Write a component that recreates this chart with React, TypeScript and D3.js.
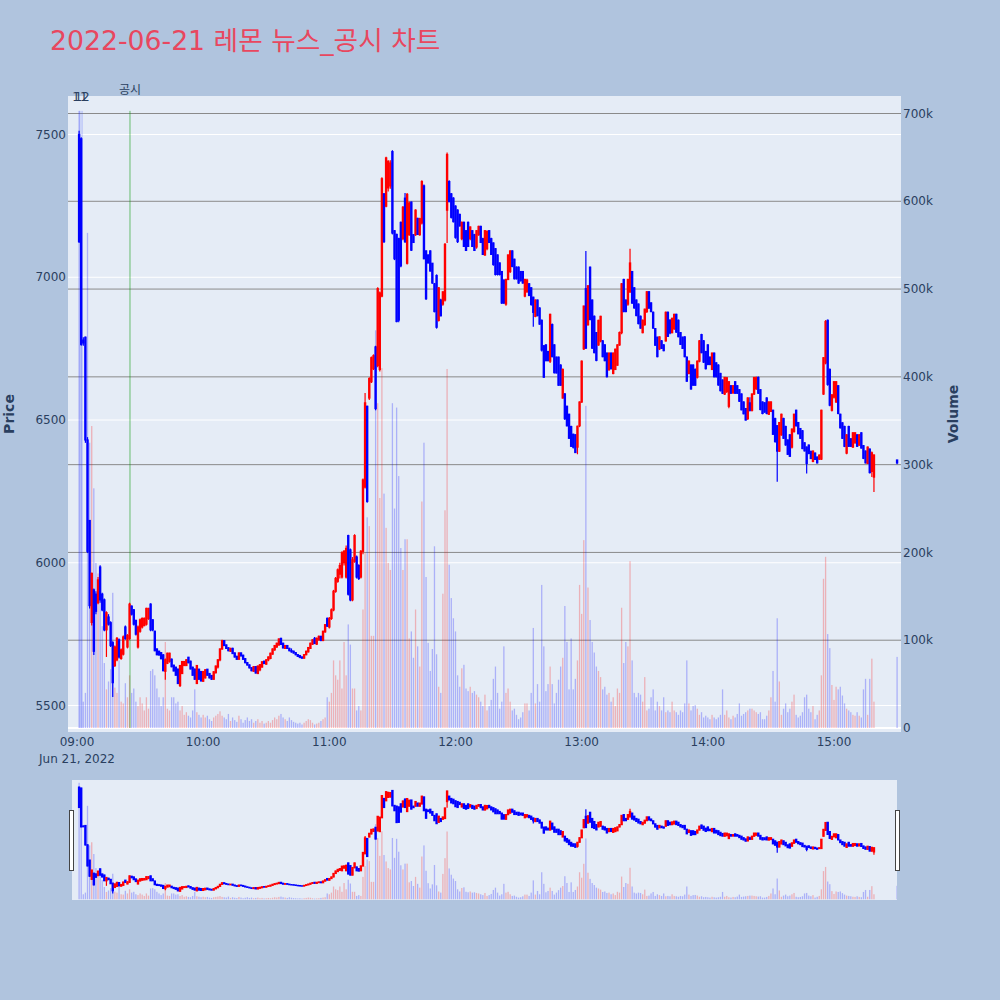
import React from "react";
import * as d3 from "d3";

const TITLE = "2022-06-21 레몬 뉴스_공시 차트";
const DATE_LABEL = "Jun 21, 2022";

// minute offsets from 09:00 (09:01 ... 15:19, then 15:30 closing auction)
const minuteOffsets: number[] = [...d3.range(1, 380), 390];

const openP = [
  7500,7485,6780,6790,6430,6148,5791,5905,5890,5860,
  5985,5890,5870,5765,5810,5790,5720,5640,5660,5730,
  5665,5680,5775,5705,5735,5848,5835,5798,5705,5760,
  5775,5780,5785,5805,5855,5800,5760,5698,5690,5685,
  5677,5620,5648,5655,5662,5641,5634,5627,5570,5612,
  5640,5640,5669,5655,5634,5627,5577,5627,5619,5585,
  5597,5627,5612,5605,5592,5615,5635,5660,5698,5727,
  5712,5702,5690,5700,5684,5672,5662,5684,5676,5664,
  5650,5642,5632,5620,5636,5612,5625,5635,5655,5645,
  5660,5665,5680,5695,5705,5712,5735,5718,5700,5710,
  5700,5692,5690,5685,5678,5675,5670,5666,5678,5688,
  5700,5715,5735,5715,5730,5742,5728,5758,5805,5775,
  5805,5835,5900,5935,5960,5950,6000,5950,6095,6045,
  5870,6005,6020,5990,5950,6040,6265,6548,6577,6634,
  6680,6756,6691,6677,6934,7292,7249,7313,7320,7440,
  7163,7150,7135,7192,7135,7277,7049,7149,7263,7149,
  7149,7206,7149,7190,7320,7092,7078,7092,7049,6977,
  7006,6849,6920,6906,6920,7235,7335,7292,7277,7249,
  7235,7220,7135,7192,7163,7192,7135,7163,7149,7106,
  7149,7178,7135,7078,7100,7163,7135,7120,7100,7078,
  7050,7020,6990,6906,6992,7020,7092,7063,7035,7035,
  7020,7020,6934,6950,6977,6963,6930,6863,6920,6892,
  6849,6760,6763,6740,6706,6834,6763,6720,6720,6692,
  6577,6591,6548,6520,6477,6450,6448,6405,6480,6563,
  6749,6960,6834,7035,6920,6863,6806,6763,6777,6777,
  6763,6734,6677,6734,6663,6677,6692,6763,6806,6992,
  6920,6906,6949,7020,6963,6920,6906,6863,6806,6834,
  6880,6949,6910,6877,6820,6790,6749,6777,6763,6777,
  6877,6850,6806,6820,6870,6849,6806,6790,6791,6720,
  6663,6692,6692,6677,6650,6706,6799,6777,6740,6763,
  6720,6677,6734,6700,6692,6663,6640,6591,6600,6548,
  6620,6595,6634,6620,6606,6591,6563,6540,6505,6560,
  6534,6591,6610,6649,6606,6563,6560,6577,6520,6530,
  6534,6505,6480,6391,6448,6505,6477,6430,6448,6405,
  6460,6534,6491,6470,6462,6420,6405,6412,6390,6355,
  6384,6370,6363,6363,6591,6700,6849,6677,6534,6580,
  6563,6620,6520,6490,6477,6384,6477,6434,6405,6420,
  6448,6412,6455,6410,6391,6348,6398,6320,6300,
  6360,
];

const highP = [
  7513,7490,6790,6792,6440,6150,5965,5910,5900,5950,
  5991,5895,5875,5830,5820,5795,5725,5710,5740,5735,
  5700,5745,5780,5750,5860,5850,5838,5800,5780,5805,
  5808,5808,5842,5842,5858,5802,5762,5700,5692,5687,
  5680,5665,5685,5685,5665,5643,5636,5630,5642,5655,
  5655,5662,5670,5657,5636,5630,5642,5629,5620,5620,
  5627,5628,5614,5607,5620,5640,5662,5700,5730,5729,
  5714,5704,5702,5702,5686,5674,5686,5686,5678,5666,
  5652,5644,5634,5638,5638,5640,5645,5655,5657,5662,
  5672,5685,5700,5712,5720,5735,5737,5720,5712,5712,
  5702,5700,5692,5687,5680,5677,5672,5680,5692,5705,
  5720,5732,5740,5738,5745,5744,5762,5785,5808,5810,
  5840,5905,5950,5980,6000,6040,6045,6060,6098,6050,
  6020,6100,6025,5995,6045,6295,6595,6550,6650,6722,
  6730,6760,6965,6950,7350,7295,7422,7410,7410,7445,
  7165,7152,7138,7195,7250,7295,7295,7265,7265,7150,
  7238,7208,7208,7340,7325,7095,7080,7095,7050,6980,
  7010,6965,6925,6950,7120,7437,7340,7295,7280,7252,
  7238,7222,7195,7195,7165,7195,7178,7165,7152,7165,
  7180,7180,7138,7165,7165,7165,7138,7122,7102,7080,
  7052,7022,6992,6995,7080,7095,7095,7065,7038,7038,
  7022,7022,6995,6995,6980,6965,6932,6922,6922,6895,
  6852,6762,6765,6742,6872,6838,6765,6722,6722,6695,
  6680,6595,6550,6522,6480,6452,6450,6480,6565,6708,
  6900,7092,6972,7038,6922,6866,6808,6851,6865,6780,
  6765,6736,6736,6736,6736,6750,6765,6810,6980,6995,
  6922,6995,7100,7022,6965,6922,6908,6866,6852,6890,
  6952,6952,6912,6880,6822,6792,6793,6780,6765,6880,
  6880,6852,6858,6872,6872,6852,6808,6792,6793,6722,
  6708,6695,6695,6680,6708,6780,6802,6780,6742,6765,
  6722,6736,6736,6702,6695,6665,6642,6651,6650,6636,
  6622,6622,6636,6622,6608,6593,6565,6542,6580,6580,
  6593,6651,6652,6652,6608,6565,6562,6580,6565,6566,
  6536,6508,6482,6493,6522,6508,6480,6432,6450,6470,
  6522,6536,6493,6472,6465,6422,6407,6414,6392,6393,
  6386,6372,6379,6536,6720,6850,6852,6680,6590,6636,
  6636,6622,6522,6492,6480,6450,6480,6436,6457,6457,
  6450,6450,6457,6412,6393,6407,6400,6390,6380,
  6360,
];

const lowP = [
  7120,6760,6760,6420,6034,5840,5780,5677,5820,5855,
  5860,5830,5760,5670,5780,5705,5530,5635,5655,5665,
  5660,5675,5730,5700,5730,5815,5780,5745,5700,5755,
  5770,5778,5780,5800,5760,5760,5690,5676,5675,5662,
  5620,5590,5645,5650,5634,5620,5605,5575,5565,5610,
  5638,5638,5648,5627,5605,5590,5575,5590,5585,5583,
  5595,5605,5595,5590,5590,5612,5630,5655,5695,5708,
  5698,5690,5688,5680,5668,5660,5660,5672,5660,5648,
  5640,5630,5620,5618,5612,5610,5620,5632,5645,5643,
  5655,5662,5678,5692,5702,5710,5712,5700,5698,5698,
  5690,5685,5682,5676,5670,5666,5664,5664,5676,5686,
  5698,5712,5715,5712,5728,5725,5725,5755,5775,5770,
  5800,5830,5895,5930,5945,5945,5990,5945,5885,5865,
  5865,6000,5945,5940,5945,6030,6260,6210,6570,6630,
  6675,6534,6685,6670,6930,7120,7245,7300,7310,7150,
  7060,6842,6842,7035,7130,7120,7045,7145,7092,7120,
  7145,7149,7145,7185,7063,6920,7049,7020,6977,6877,
  6820,6845,6863,6900,6915,7120,7263,7206,7192,7135,
  7120,7178,7130,7106,7092,7106,7130,7106,7092,7100,
  7145,7120,7078,7075,7095,7120,7078,7040,7006,7006,
  7006,6906,6906,6900,6990,7015,7035,6992,6992,6977,
  6985,6977,6930,6945,6934,6900,6827,6860,6863,6834,
  6740,6648,6706,6706,6700,6720,6663,6663,6620,6620,
  6575,6500,6477,6434,6405,6400,6384,6380,6475,6560,
  6745,6749,6830,6849,6749,6734,6706,6760,6772,6720,
  6706,6649,6672,6677,6660,6675,6690,6760,6800,6877,
  6877,6900,6945,6906,6890,6863,6835,6820,6804,6830,
  6875,6890,6877,6820,6760,6720,6745,6749,6741,6775,
  6791,6800,6804,6815,6806,6790,6763,6749,6720,6634,
  6660,6606,6620,6620,6645,6702,6734,6700,6677,6692,
  6692,6675,6649,6649,6620,6600,6591,6588,6595,6541,
  6591,6592,6591,6591,6563,6534,6520,6498,6500,6530,
  6530,6588,6605,6591,6534,6520,6525,6520,6518,6528,
  6448,6420,6284,6388,6445,6434,6410,6377,6370,6400,
  6455,6477,6450,6434,6398,6390,6313,6380,6363,6352,
  6360,6348,6360,6360,6588,6695,6620,6548,6530,6575,
  6560,6520,6470,6434,6405,6380,6405,6405,6403,6418,
  6405,6410,6400,6363,6348,6346,6313,6300,6248,
  6345,
];

const closeP = [
  7125,6765,6770,6430,6040,5850,5963,5690,5830,5940,
  5870,5835,5765,5825,5785,5710,5580,5705,5735,5670,
  5695,5740,5735,5745,5855,5820,5785,5750,5775,5800,
  5805,5805,5840,5840,5765,5765,5692,5678,5677,5664,
  5622,5660,5683,5683,5636,5621,5606,5577,5640,5654,
  5654,5660,5650,5628,5606,5592,5640,5592,5586,5619,
  5625,5606,5597,5592,5618,5638,5660,5698,5727,5710,
  5700,5692,5700,5682,5670,5662,5684,5674,5662,5650,
  5642,5632,5622,5636,5614,5638,5643,5653,5647,5660,
  5670,5683,5698,5710,5718,5733,5714,5702,5710,5700,
  5692,5688,5684,5678,5672,5668,5666,5678,5690,5703,
  5718,5730,5717,5735,5742,5728,5760,5783,5778,5805,
  5835,5900,5945,5975,5990,6035,6040,6050,5890,5870,
  6010,6095,5950,5945,6040,6290,6560,6215,6645,6718,
  6725,6540,6960,6945,7345,7125,7418,7406,7400,7155,
  7065,6845,6850,7040,7245,7125,7290,7260,7095,7122,
  7235,7150,7205,7335,7065,6925,7050,7022,6980,6880,
  6825,6963,6865,6949,7115,7430,7265,7210,7195,7140,
  7125,7180,7192,7108,7094,7108,7176,7108,7094,7163,
  7178,7122,7080,7163,7160,7122,7080,7045,7010,7010,
  7010,6910,6910,6992,7078,7092,7038,6995,6995,6980,
  6988,6980,6992,6990,6936,6905,6877,6920,6866,6836,
  6745,6650,6708,6708,6870,6722,6666,6665,6622,6622,
  6677,6505,6480,6436,6408,6405,6386,6478,6563,6706,
  6899,6752,6970,6852,6752,6736,6709,6849,6863,6722,
  6708,6652,6734,6680,6734,6748,6763,6806,6977,6880,
  6880,6992,7050,6910,6893,6866,6838,6822,6849,6888,
  6949,6892,6880,6822,6762,6722,6791,6751,6743,6877,
  6793,6805,6856,6870,6808,6792,6765,6751,6722,6636,
  6706,6609,6622,6622,6706,6777,6736,6703,6680,6695,
  6695,6734,6652,6652,6623,6603,6594,6649,6648,6634,
  6594,6620,6594,6594,6566,6536,6522,6500,6577,6534,
  6591,6649,6648,6594,6537,6523,6528,6523,6563,6563,
  6450,6425,6391,6491,6520,6436,6413,6380,6373,6468,
  6520,6480,6452,6436,6400,6392,6348,6383,6365,6391,
  6362,6350,6377,6534,6718,6845,6625,6552,6588,6634,
  6634,6523,6473,6436,6408,6448,6408,6408,6455,6455,
  6408,6448,6402,6366,6350,6405,6316,6385,6377,
  6350,
];

// volume in thousands of shares
const volumeK = [
  703,620,30,40,564,325,344,273,188,176,
  151,116,74,44,53,67,154,46,40,77,
  30,28,51,35,60,40,45,30,25,35,
  28,20,35,22,65,67,60,45,35,25,
  35,98,22,20,35,35,28,30,20,25,
  15,18,14,12,20,44,18,15,12,15,
  12,14,10,8,12,14,16,19,14,12,
  10,16,8,12,9,7,14,10,6,9,
  12,8,10,6,8,10,6,8,5,6,
  8,6,9,12,10,14,16,12,10,8,
  12,9,7,6,5,6,4,6,8,10,
  9,6,4,5,6,8,10,12,35,30,
  40,77,60,55,77,45,98,60,118,95,
  45,45,20,25,20,135,200,240,230,105,
  105,453,370,262,410,267,228,188,180,370,
  250,365,287,205,180,215,215,102,110,80,
  135,93,70,258,325,172,97,65,90,207,
  84,47,40,153,248,409,186,148,125,110,
  60,47,68,72,45,42,47,40,42,38,
  35,30,25,38,20,25,32,56,70,40,
  22,30,93,40,45,30,20,22,15,10,
  12,18,28,28,20,40,114,28,50,30,
  163,93,42,50,70,50,28,40,55,70,
  80,139,98,44,102,44,56,77,163,130,
  214,367,160,123,98,86,70,65,58,44,
  47,38,40,30,35,25,45,40,137,74,
  98,93,190,77,40,35,40,38,30,58,
  20,22,35,44,20,30,25,20,35,18,
  20,18,30,20,18,15,20,18,28,77,
  28,20,25,26,22,15,18,12,14,12,
  10,15,12,10,12,15,44,15,20,12,
  10,14,12,16,28,14,16,18,20,22,
  22,20,18,16,18,10,10,14,20,35,
  65,30,125,53,15,22,28,18,22,30,
  38,15,12,14,18,35,38,22,18,25,
  10,15,20,60,170,195,107,91,49,32,
  47,44,47,37,28,22,20,18,15,14,
  18,14,12,44,56,15,56,79,30,
  81,
];

const priceTicks = [5500, 6000, 6500, 7000, 7500];
const volumeTicks = [0, 100, 200, 300, 400, 500, 600, 700];
const volumeTickLabels = ["0", "100k", "200k", "300k", "400k", "500k", "600k", "700k"];
const timeTickMinutes = [0, 60, 120, 180, 240, 300, 360];
const timeTickLabels = ["09:00", "10:00", "11:00", "12:00", "13:00", "14:00", "15:00"];

const newsLabels = ["11", "12"];
const newsMinutes = [1.4, 2.4];
const disclosureLabel = "공시";
const disclosureMinute = 25.2;

const FONT = '"DejaVu Sans", Verdana, "Noto Sans CJK KR", sans-serif';
const TEXT = "#2a3f5f";
const UP = "#ff0000";
const DOWN = "#0000ff";

type Row = { m: number; o: number; h: number; l: number; c: number; v: number };

const rows: Row[] = minuteOffsets.map((m, i) => ({
  m,
  o: openP[i],
  h: highP[i],
  l: lowP[i],
  c: closeP[i],
  v: volumeK[i],
}));

function Candles({ x, y, bodyW }: { x: any; y: any; bodyW: number }) {
  return (
    <g>
      {rows.map((r, i) => {
        const col = r.c >= r.o ? UP : DOWN;
        const cx = x(r.m);
        const top = y(Math.max(r.o, r.c));
        const bot = y(Math.min(r.o, r.c));
        return (
          <g key={i}>
            <line x1={cx} x2={cx} y1={y(r.h)} y2={y(r.l)} stroke={col} strokeWidth={1.2} />
            <rect x={cx - bodyW / 2} y={top - 0.6} width={bodyW} height={Math.max(1.2, bot - top + 1.2)} fill={col} />
          </g>
        );
      })}
    </g>
  );
}

function Volumes({ x, y, w }: { x: any; y: any; w: number }) {
  return (
    <g>
      {rows.map((r, i) => {
        const col = r.c >= r.o ? UP : DOWN;
        const cx = x(r.m);
        return (
          <rect key={i} x={cx - w / 2} y={y(r.v)} width={w} height={Math.max(0, y(0) - y(r.v))} fill={col} opacity={0.25} />
        );
      })}
    </g>
  );
}

export default function App() {
  const plot = { left: 68, right: 901, top: 96, bottom: 732 };
  const sl = { left: 72, right: 897, top: 780, bottom: 900 };

  const x = d3.scaleLinear().domain([0, 360]).range([77, 834]);
  const yP = d3.scaleLinear().domain([5500, 7500]).range([705.5, 134.5]);
  const yV = d3.scaleLinear().domain([0, 700]).range([728, 113.5]);
  const yPs = d3.scaleLinear().domain([yP.invert(plot.bottom), yP.invert(plot.top)]).range([sl.bottom, sl.top]);
  const yVs = d3.scaleLinear().domain([yV.invert(plot.bottom), yV.invert(plot.top)]).range([sl.bottom, sl.top]);

  const maxVol = d3.max(volumeK) as number;

  return (
    <div style={{ position: "absolute", left: 0, top: 0, width: 1000, height: 1000 }}>
      <svg width={1000} height={1000} style={{ display: "block", fontFamily: FONT }}>
        <defs>
          <clipPath id="clipMain">
            <rect x={plot.left} y={plot.top} width={plot.right - plot.left} height={plot.bottom - plot.top} />
          </clipPath>
          <clipPath id="clipSlider">
            <rect x={sl.left} y={sl.top} width={sl.right - sl.left} height={sl.bottom - sl.top} />
          </clipPath>
        </defs>
        <rect x={0} y={0} width={1000} height={1000} fill="#b0c4de" />

        <text x={50} y={50} fontSize={26.7} fill="#e8475f" fontFamily={FONT}>{TITLE}</text>

        {/* main plot */}
        <rect x={plot.left} y={plot.top} width={plot.right - plot.left} height={plot.bottom - plot.top} fill="#e5ecf6" />
        {priceTicks.map((t) => (
          <line key={"pg" + t} x1={plot.left} x2={plot.right} y1={yP(t)} y2={yP(t)} stroke="#ffffff" strokeWidth={1} />
        ))}
        {volumeTicks.filter((t) => t > 0).map((t) => (
          <line key={"vg" + t} x1={plot.left} x2={plot.right} y1={yV(t)} y2={yV(t)} stroke="#8a8a8a" strokeWidth={1} />
        ))}
        <line x1={plot.left} x2={plot.right} y1={yV(0)} y2={yV(0)} stroke="#ffffff" strokeWidth={2} />

        <g clipPath="url(#clipMain)">
          <Volumes x={x} y={yV} w={1.3} />
          {newsMinutes.map((m, i) => (
            <line key={"nl" + i} x1={x(m)} x2={x(m)} y1={yV(0)} y2={yV(maxVol)} stroke="rgba(60,80,255,0.35)" strokeWidth={1} />
          ))}
          <line x1={x(disclosureMinute)} x2={x(disclosureMinute)} y1={yV(0)} y2={yV(maxVol)} stroke="rgba(0,150,0,0.55)" strokeWidth={1} />
          <Candles x={x} y={yP} bodyW={2.4} />
        </g>

        {/* annotations */}
        {newsMinutes.map((m, i) => (
          <text key={"nt" + i} x={x(m)} y={101} fontSize={12} fill={TEXT} textAnchor="middle">{newsLabels[i]}</text>
        ))}
        <text x={x(disclosureMinute)} y={94} fontSize={12} fill={TEXT} textAnchor="middle">{disclosureLabel}</text>

        {/* left axis */}
        {priceTicks.map((t) => (
          <text key={"pt" + t} x={66} y={yP(t)} dy="0.35em" fontSize={12} fill={TEXT} textAnchor="end">{t}</text>
        ))}
        {/* right axis */}
        {volumeTicks.map((t, i) => (
          <text key={"vt" + t} x={903} y={yV(t)} dy="0.35em" fontSize={12} fill={TEXT} textAnchor="start">{volumeTickLabels[i]}</text>
        ))}
        {/* x axis */}
        {timeTickMinutes.map((m, i) => (
          <text key={"xt" + m} x={x(m)} y={746} fontSize={12} fill={TEXT} textAnchor="middle">{timeTickLabels[i]}</text>
        ))}
        <text x={x(0)} y={763} fontSize={12} fill={TEXT} textAnchor="middle">{DATE_LABEL}</text>

        {/* axis titles */}
        <text transform={`translate(14,${(plot.top + plot.bottom) / 2}) rotate(-90)`} fontSize={14} fontWeight="bold" fill={TEXT} textAnchor="middle">Price</text>
        <text transform={`translate(958,${(plot.top + plot.bottom) / 2}) rotate(-90)`} fontSize={14} fontWeight="bold" fill={TEXT} textAnchor="middle">Volume</text>

        {/* range slider */}
        <rect x={sl.left} y={sl.top} width={sl.right - sl.left} height={sl.bottom - sl.top} fill="#e5ecf6" />
        <g clipPath="url(#clipSlider)">
          <Volumes x={x} y={yVs} w={1.3} />
          <Candles x={x} y={yPs} bodyW={2.4} />
        </g>
        <rect x={69.5} y={810.5} width={4} height={60} fill="#ffffff" stroke="#444" strokeWidth={1} />
        <rect x={895.5} y={810.5} width={4} height={60} fill="#ffffff" stroke="#444" strokeWidth={1} />
      </svg>
    </div>
  );
}
